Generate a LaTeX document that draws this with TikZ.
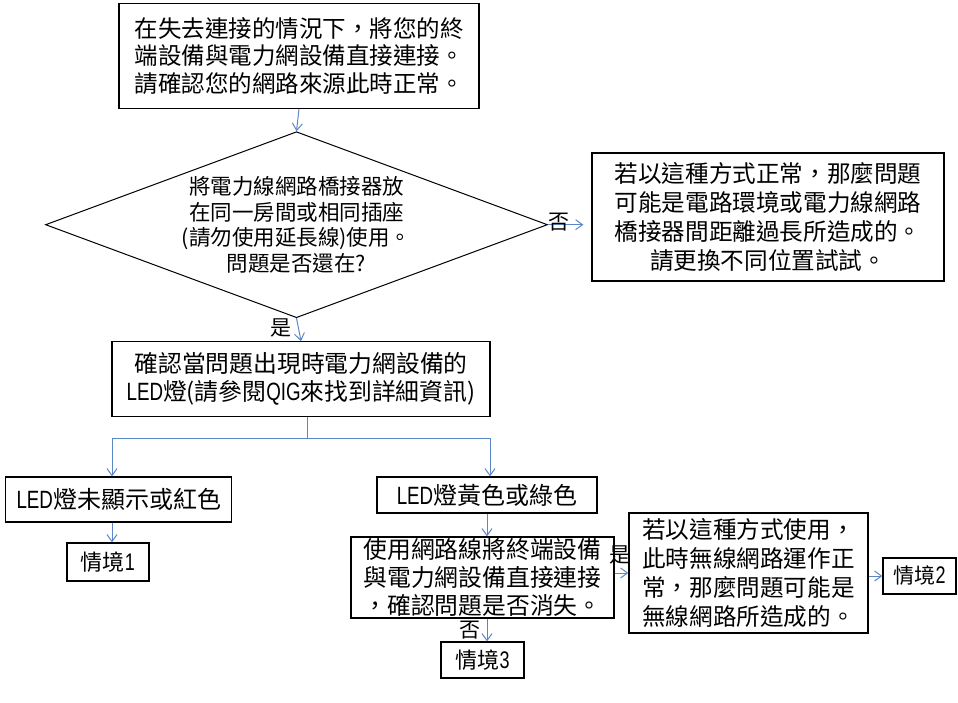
\documentclass[tikz,border=0pt]{standalone}
\usepackage{fontspec}
\setmainfont{Noto Sans CJK TC}
\newfontfamily\latn[FakeStretch=0.75]{Liberation Sans}
\usetikzlibrary{arrows.meta,shapes.geometric}
\definecolor{arrc}{HTML}{5B87C6}
\newcommand{\LE}[1]{{\latn\fontsize{25}{25}\selectfont #1}}
\newcommand{\LS}[1]{{\latn\fontsize{24}{24}\selectfont #1}}
\begin{document}
\begin{tikzpicture}[x=1pt,y=-1pt,
  box/.style={draw=black,line width=1.2pt,inner sep=0pt,align=center},
  arr/.style={draw=arrc,line width=1pt,-{Straight Barb[length=7pt,width=10pt]}},
  ln/.style={draw=arrc,line width=1pt},
  lab/.style={inner sep=0pt,font=\fontsize{21}{21}\selectfont}]

\useasboundingbox (0,0) rectangle (958,702);

\node[box,minimum width=360pt,minimum height=104.5pt,font=\fontsize{23.5}{27.5}\selectfont] (top) at (299,56)
  {在失去連接的情況下，將您的終\\端設備與電力網設備直接連接。\\請確認您的網路來源此時正常。};

\node[draw=black,line width=1pt,shape=diamond,aspect=2.7,inner sep=0pt,minimum width=502pt,minimum height=186pt,align=center,font=\fontsize{21.5}{25.7}\selectfont] (dia) at (296.5,224.7)
  {將電力線網路橋接器放\\在同一房間或相同插座\\(請勿使用延長線)使用。\\問題是否還在?};

\node[box,minimum width=352pt,minimum height=128pt,font=\fontsize{23.6}{29.3}\selectfont] (rbox) at (768,217)
  {若以這種方式正常，那麼問題\\可能是電路環境或電力線網路\\橋接器間距離過長所造成的。\\請更換不同位置試試。};

\node[box,minimum width=378pt,minimum height=74.5pt,font=\fontsize{23.8}{28.5}\selectfont] (chk) at (301,379)
  {確認當問題出現時電力網設備的\\\LE{LED}燈(請參閱\LE{QIG}來找到詳細資訊)};

\node[box,minimum width=226pt,minimum height=45pt,font=\fontsize{24}{24}\selectfont] (led1) at (118.8,499.5)
  {\LE{LED}燈未顯示或紅色};
\node[box,minimum width=220pt,minimum height=36pt,font=\fontsize{24}{24}\selectfont] (led2) at (487,495)
  {\LE{LED}燈黃色或綠色};

\node[box,minimum width=82pt,minimum height=38pt,font=\fontsize{22}{22}\selectfont] (s1) at (108,562)
  {情境\LS{1}};

\node[box,minimum width=263pt,minimum height=81pt,font=\fontsize{23.8}{28}\selectfont] (use) at (482.5,577.5)
  {使用網路線將終端設備\\與電力網設備直接連接\\，確認問題是否消失。};

\node[box,minimum width=239pt,minimum height=120pt,align=left,font=\fontsize{23.6}{28.7}\selectfont] (yi) at (748.5,573)
  {若以這種方式使用，\\此時無線網路運作正\\常，那麼問題可能是\\無線網路所造成的。};

\node[box,minimum width=73pt,minimum height=36pt,font=\fontsize{21}{21}\selectfont] (s2) at (919.5,576)
  {情境\LS{2}};
\node[box,minimum width=83pt,minimum height=36pt,font=\fontsize{22}{22}\selectfont] (s3) at (482.5,660)
  {情境\LS{3}};

% connectors
\draw[arr] (top.south) -- (dia.north);
\draw[arr,shorten >=8pt] (dia.east) -- (dia.east -| rbox.west);
\node[lab] (no1) at (559,222) {否};
\draw[arr] (dia.south) -- (chk.north);
\node[lab] (yes1) at (281,328) {是};

\coordinate (bj) at (307,438);
\coordinate (bl) at (112,438);
\coordinate (br) at (490,438);
\draw[ln] (chk.south -| bj) -- (bj);
\draw[ln] (bl) -- (br);
\draw[arr] (bl) -- (bl |- led1.north);
\draw[arr] (br) -- (br |- led2.north);
\draw[arr] (led1.south -| bl) -- (bl |- s1.north);
\draw[arr] (led2.south) -- (use.north -| led2.south);
\draw[arr] (use.east |- yi.west) -- (yi.west);
\node[lab] (yes2) at (620,555) {是};
\draw[arr] (yi.east |- s2.west) -- (s2.west);
\draw[arr] (use.south -| led2.south) -- (s3.north -| led2.south);
\node[lab] (no2) at (470,630) {否};
\end{tikzpicture}
\end{document}
